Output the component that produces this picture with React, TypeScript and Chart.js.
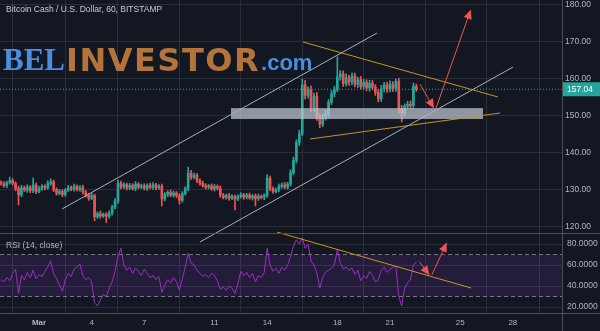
import React, { useEffect, useRef } from 'react';
import { Chart, registerables } from 'chart.js';

Chart.register(...registerables);

// ---- data (day axis: Mar 1 = 1, Feb 28 = 0) ----
const startDay = -1.1667; // first 4h candle
const candleStep = 4 / 24;
const firstOpen = 131.8;
const closes = [
  131.5, 131.0, 131.8, 132.4, 131.6, 130.2, 128.5, 130.4, 129.8, 130.6,
  129.6, 131.2, 129.4, 130.2, 130.8, 130.4, 131.6, 132.0, 130.0, 128.9,
  129.4, 128.6, 129.8, 130.4, 130.1, 130.8, 129.9, 130.5, 129.3, 128.4,
  127.6, 128.3, 122.6, 123.4, 122.8, 123.2, 122.7, 123.6, 125.2, 126.8,
  131.6, 130.6, 131.3, 130.4, 131.0, 130.2, 131.4, 130.6, 130.9, 130.3,
  131.1, 130.5, 131.2, 130.4, 130.8, 127.4, 128.6, 129.2, 128.4, 129.0,
  128.3, 127.0, 128.8, 130.2, 134.4, 133.2, 133.8, 132.4, 131.6, 131.0,
  130.6, 130.9, 130.1, 130.8, 130.3, 128.4, 127.8, 128.3, 127.6, 128.1,
  127.4, 128.0, 128.5, 127.9, 128.4, 127.7, 128.2, 127.5, 128.1, 127.8,
  128.3, 133.0, 130.2, 129.4, 129.9, 130.8, 131.2, 130.6, 131.4, 134.5,
  137.8, 142.6, 145.0, 158.2, 155.4, 156.8, 152.0, 155.2, 149.4, 147.6,
  149.5, 150.4, 153.6, 155.8, 157.0, 160.4, 161.2, 158.6, 160.2, 159.0,
  160.6, 158.4, 159.6, 157.8, 158.9, 157.4, 158.6, 157.6, 156.2, 154.4,
  157.2, 158.2, 157.0, 158.4, 157.3, 159.2, 151.8, 150.6, 152.4, 153.0,
  152.6, 157.8, 157.04,
];
const wickUp = [
  0.5, 0.6, 0.4, 0.9, 0.5, 0.4, 0.6, 0.7, 0.5, 0.6,
  0.4, 1.8, 0.5, 0.6, 0.5, 0.4, 0.7, 0.8, 0.5, 0.4,
  0.6, 0.5, 0.4, 0.7, 0.5, 0.6, 0.4, 0.5, 0.6, 0.4,
  0.5, 0.6, 0.4, 0.5, 0.7, 0.4, 0.5, 0.6, 0.5, 0.7,
  0.9, 0.6, 0.5, 0.4, 0.6, 0.5, 0.7, 0.4, 0.5, 0.6,
  0.4, 0.5, 0.6, 0.4, 0.5, 0.6, 0.5, 0.4, 0.6, 0.5,
  0.4, 0.5, 0.6, 0.5, 1.6, 0.7, 0.6, 0.5, 0.4, 0.6,
  0.5, 0.4, 0.6, 0.5, 0.4, 0.6, 0.5, 0.4, 0.6, 0.5,
  0.4, 0.5, 0.6, 0.4, 0.5, 0.6, 0.4, 0.5, 0.6, 0.4,
  0.5, 1.0, 0.6, 0.5, 0.4, 0.6, 0.5, 0.7, 0.5, 0.8,
  0.9, 0.8, 1.0, 1.6, 1.2, 0.9, 1.1, 0.8, 1.0, 0.9,
  0.8, 1.0, 0.7, 0.9, 0.8, 5.4, 0.9, 0.8, 1.0, 0.7,
  0.9, 0.8, 0.7, 0.9, 0.8, 0.7, 0.9, 0.8, 0.7, 0.8,
  0.9, 0.7, 0.8, 0.9, 0.7, 0.6, 0.8, 0.9, 0.7, 0.8,
  0.9, 0.9, 0.6,
];
const wickDown = [
  0.4, 0.5, 0.6, 0.4, 0.5, 0.6, 2.7, 0.5, 0.4, 0.6,
  0.5, 0.5, 0.6, 0.4, 0.5, 0.6, 0.4, 0.5, 0.6, 0.5,
  0.4, 0.6, 0.5, 0.4, 0.5, 0.6, 0.4, 0.5, 0.6, 0.5,
  0.6, 0.4, 1.1, 0.5, 0.6, 0.4, 1.7, 0.5, 0.6, 0.5,
  0.6, 0.5, 0.4, 0.6, 0.5, 0.4, 0.6, 0.5, 0.4, 0.5,
  0.6, 0.4, 0.5, 0.6, 0.4, 1.9, 0.5, 0.6, 0.4, 0.5,
  0.6, 1.0, 0.5, 0.4, 0.6, 0.5, 0.4, 0.6, 0.5, 0.4,
  0.6, 0.5, 0.4, 0.6, 0.5, 0.6, 0.4, 0.5, 0.6, 0.4,
  3.0, 0.5, 0.4, 0.6, 0.5, 0.4, 0.6, 2.0, 0.5, 0.4,
  0.6, 0.5, 0.6, 0.5, 0.4, 0.6, 0.5, 0.4, 0.6, 0.5,
  0.6, 0.7, 0.8, 0.5, 1.0, 0.8, 1.0, 0.9, 0.8, 1.0,
  0.7, 0.8, 0.9, 0.7, 0.8, 0.6, 0.9, 0.8, 0.7, 0.9,
  0.8, 0.7, 0.9, 0.8, 0.7, 0.8, 0.9, 0.7, 0.8, 0.8,
  0.7, 0.9, 0.8, 0.7, 0.9, 0.8, 1.3, 2.4, 0.8, 0.7,
  0.8, 0.7, 0.6,
];
const rsiValues = [
  46, 44, 48, 45, 52, 56, 33, 50, 46, 53,
  48, 55, 47, 51, 49, 54, 58, 64, 52, 47,
  41, 35, 46, 52, 49, 56, 58, 61, 50, 46,
  48, 44, 24, 21, 27, 32, 30, 38, 44, 54,
  68, 76, 60, 55, 58, 52, 57, 54, 50, 56,
  52, 48, 50, 46, 49, 34, 41, 46, 43, 48,
  44, 36, 47, 58, 71, 62, 60, 55, 52, 49,
  51, 48, 52, 50, 45, 37, 39, 36, 40, 38,
  33, 42, 54, 50, 53, 48, 52, 44, 50, 48,
  53, 76, 60, 54, 57, 52, 58, 55, 60, 68,
  78, 84, 80, 86, 76, 80, 64, 60, 52, 38,
  48, 53, 55, 57, 60, 75, 62, 56, 58, 55,
  57, 51, 55, 45, 50, 47, 54, 50, 44, 46,
  55, 58, 53, 56, 58, 59, 30, 21, 38, 43,
  46, 60, 63,
];
const lastPrice = 157.04;
const dayTicks = [1, 4, 7, 11, 14, 18, 21, 25, 28];
const dayTickLabels = ['Mar', '4', '7', '11', '14', '18', '21', '25', '28'];
const priceTicks = [120, 130, 140, 150, 160, 170, 180];
const rsiTicks = [20, 40, 60, 80];
const rsiUpperBand = 70;
const rsiLowerBand = 30;

// drawings, in [day, value]
const channelUpper = [[2.31, 124.68], [20.26, 172.24]];
const channelLower = [[10.17, 115.76], [28.01, 163.05]];
const wedgeUpper = [[16.04, 169.81], [27.15, 154.95]];
const wedgeLower = [[16.44, 143.59], [27.27, 150.62]];
const supportZone = { from: 11.94, to: 26.3, low: 149.0, high: 151.95 };
const priceArrows = [
  [[22.71, 158.43], [23.5, 151.9]],
  [[23.62, 151.9], [25.6, 178.5]],
];
const rsiTrend = [[14.56, 91.4], [25.62, 38.1]];
const rsiArrows = [
  [[22.67, 63.1], [23.24, 50.5]],
  [[23.38, 50.5], [24.23, 81.2]],
];

const X_MIN = -1.222;
const X_MAX = 30.8;

const BG = '#131722';
const GRID = '#2a2e39';
const AXIS_LINE = '#4a4e59';
const TEXT = '#b2b5be';
const UP = '#26a69a';
const DOWN = '#ef5350';
const ARROW = '#ec5553';
const GOLD = '#c8961e';
const CHANNEL = '#a9b1bc';

function zeroPad(s: any) {
  s.paddingTop = 0;
  s.paddingBottom = 0;
  s.paddingLeft = 0;
  s.paddingRight = 0;
}

function drawHead(ctx: CanvasRenderingContext2D, x0: number, y0: number, x1: number, y1: number) {
  const a = Math.atan2(y1 - y0, x1 - x0);
  const L = 9;
  const W = 4.2;
  ctx.beginPath();
  ctx.moveTo(x1, y1);
  ctx.lineTo(x1 - L * Math.cos(a) + W * Math.sin(a), y1 - L * Math.sin(a) - W * Math.cos(a));
  ctx.lineTo(x1 - L * Math.cos(a) - W * Math.sin(a), y1 - L * Math.sin(a) + W * Math.cos(a));
  ctx.closePath();
  ctx.fill();
}

export default function App() {
  const ref = useRef<HTMLCanvasElement | null>(null);

  useEffect(() => {
    const canvas = ref.current;
    if (!canvas) return;

    const times = closes.map((_, i) => startDay + i * candleStep);
    const opens = closes.map((_, i) => (i === 0 ? firstOpen : closes[i - 1]));
    const highs = closes.map((c, i) => Math.max(opens[i], c) + wickUp[i]);
    const lows = closes.map((c, i) => Math.min(opens[i], c) - wickDown[i]);
    const colors = closes.map((c, i) => (c >= opens[i] ? UP : DOWN));

    const seg = (pts: number[][]) => pts.map(([x, y]) => ({ x, y }));
    const lineDs = (pts: number[][], axis: string, color: string, order: number, extra: any = {}) => ({
      type: 'line',
      data: seg(pts),
      yAxisID: axis,
      borderColor: color,
      borderWidth: 1,
      pointRadius: 0,
      tension: 0,
      fill: false,
      clip: false,
      order,
      ...extra,
    });

    const BODY_INDEX = 1;

    const datasets: any[] = [
      {
        type: 'bar',
        data: times.map((t, i) => ({ x: t, y: [lows[i], highs[i]] })),
        yAxisID: 'y',
        backgroundColor: colors,
        barThickness: 1,
        grouped: false,
        order: 30,
      },
      {
        type: 'bar',
        data: times.map((t, i) => ({ x: t, y: [opens[i], closes[i]] })),
        yAxisID: 'y',
        backgroundColor: colors,
        barThickness: 2,
        minBarLength: 1,
        grouped: false,
        order: 29,
      },
      lineDs([[X_MIN, rsiUpperBand], [X_MAX, rsiUpperBand]], 'rsi', '#787b86', 25, { borderDash: [4, 3], clip: 0 }),
      lineDs([[X_MIN, rsiLowerBand], [X_MAX, rsiLowerBand]], 'rsi', '#787b86', 24, {
        borderDash: [4, 3],
        clip: 0,
        fill: '-1',
        backgroundColor: 'rgba(126, 60, 194, 0.16)',
      }),
      {
        type: 'line',
        data: times.map((t, i) => ({ x: t, y: rsiValues[i] })),
        yAxisID: 'rsi',
        borderColor: '#9b30c0',
        borderWidth: 1,
        pointRadius: 0,
        tension: 0,
        fill: false,
        order: 20,
      },
      lineDs([[X_MIN, lastPrice], [X_MAX, lastPrice]], 'y', UP, 18, { borderDash: [1, 2], clip: 0 }),
      lineDs(channelUpper, 'y', CHANNEL, 10),
      lineDs(channelLower, 'y', CHANNEL, 10),
      lineDs(wedgeUpper, 'y', GOLD, 9),
      lineDs(wedgeLower, 'y', GOLD, 9),
      lineDs(rsiTrend, 'rsi', GOLD, 9),
      ...priceArrows.map((a) => lineDs(a, 'y', ARROW, 5)),
      ...rsiArrows.map((a) => lineDs(a, 'rsi', ARROW, 5)),
    ];

    const overlay = {
      id: 'overlay',
      afterDatasetDraw(chart: any, args: any) {
        if (args.index !== BODY_INDEX) return;
        const { ctx, scales } = chart;
        const x0 = scales.x.getPixelForValue(supportZone.from);
        const x1 = scales.x.getPixelForValue(supportZone.to);
        const y0 = scales.y.getPixelForValue(supportZone.high);
        const y1 = scales.y.getPixelForValue(supportZone.low);
        ctx.save();
        ctx.fillStyle = 'rgba(190, 200, 212, 0.72)';
        ctx.fillRect(x0, y0, x1 - x0, y1 - y0);
        ctx.restore();
      },
      afterDatasetsDraw(chart: any) {
        const { ctx, scales } = chart;
        ctx.save();
        ctx.fillStyle = ARROW;
        priceArrows.forEach(([a, b]) => {
          drawHead(ctx, scales.x.getPixelForValue(a[0]), scales.y.getPixelForValue(a[1]),
            scales.x.getPixelForValue(b[0]), scales.y.getPixelForValue(b[1]));
        });
        rsiArrows.forEach(([a, b]) => {
          drawHead(ctx, scales.x.getPixelForValue(a[0]), scales.rsi.getPixelForValue(a[1]),
            scales.x.getPixelForValue(b[0]), scales.rsi.getPixelForValue(b[1]));
        });
        ctx.restore();
      },
      afterDraw(chart: any) {
        const { ctx, scales, width, height, chartArea } = chart;
        ctx.save();
        // pane separators and axis border
        ctx.strokeStyle = AXIS_LINE;
        ctx.lineWidth = 1;
        const sep = Math.round(scales.y.bottom) + 0.5;
        const bottom = Math.round(chartArea.bottom) + 0.5;
        const right = Math.round(chartArea.right) + 0.5;
        ctx.beginPath();
        ctx.moveTo(0, sep); ctx.lineTo(width, sep);
        ctx.moveTo(0, bottom); ctx.lineTo(width, bottom);
        ctx.moveTo(right, 0); ctx.lineTo(right, height);
        ctx.stroke();

        // last price label
        const py = scales.y.getPixelForValue(lastPrice);
        ctx.fillStyle = UP;
        ctx.fillRect(right + 0.5, py - 7, width - right, 14);
        ctx.fillStyle = '#ffffff';
        ctx.font = '8.5px "Liberation Sans", sans-serif';
        ctx.textBaseline = 'middle';
        ctx.fillText(lastPrice.toFixed(2), 567, py + 0.5);

        // titles
        ctx.fillStyle = '#c9ccd4';
        ctx.font = '8.5px "Liberation Sans", sans-serif';
        ctx.fillText('Bitcoin Cash / U.S. Dollar, 60, BITSTAMP', 6, 10);
        ctx.fillStyle = TEXT;
        ctx.fillText('RSI (14, close)', 6, 245.5);

        // watermark
        ctx.textBaseline = 'alphabetic';
        let x = 3;
        ctx.font = 'bold 31px "Liberation Serif", serif';
        ctx.fillStyle = '#4a8ee0';
        ctx.fillText('BEL', x, 70);
        x += ctx.measureText('BEL').width + 1;
        ctx.font = 'bold 32px "DejaVu Sans", sans-serif';
        (ctx as any).letterSpacing = '1.5px';
        ctx.fillStyle = '#b3733a';
        ctx.fillText('INVESTOR', x, 70.5);
        x += ctx.measureText('INVESTOR').width + 1;
        (ctx as any).letterSpacing = '0px';
        ctx.font = 'bold 22px "Liberation Sans", sans-serif';
        ctx.fillStyle = '#4a8ee0';
        ctx.fillText('.com', x, 70);
        ctx.restore();
      },
    };

    const chart = new Chart(canvas, {
      type: 'bar',
      data: { datasets },
      options: {
        responsive: false,
        animation: false,
        events: [],
        layout: { padding: 0, autoPadding: false },
        plugins: { legend: { display: false }, tooltip: { enabled: false } },
        scales: {
          x: {
            type: 'linear',
            min: X_MIN,
            max: X_MAX,
            offset: false,
            afterBuildTicks: (s: any) => { s.ticks = dayTicks.map((v) => ({ value: v })); },
            afterFit: (s: any) => { s.height = 18; zeroPad(s); },
            ticks: {
              autoSkip: false,
              maxRotation: 0,
              padding: 5,
              color: TEXT,
              callback: (v: any) => {
                const k = dayTicks.indexOf(Number(v));
                return k >= 0 ? dayTickLabels[k] : '';
              },
              font: (c: any) => ({
                size: 8,
                family: '"Liberation Sans", sans-serif',
                weight: c.tick && c.tick.value === 1 ? 'bold' : 'normal',
              }),
            },
            grid: { color: GRID, drawTicks: false },
            border: { color: AXIS_LINE },
          },
          y: {
            type: 'linear',
            position: 'right',
            stack: 'pane',
            stackWeight: 233,
            min: 118.19,
            max: 181.16,
            afterBuildTicks: (s: any) => { s.ticks = priceTicks.map((v) => ({ value: v })); },
            afterFit: (s: any) => { s.width = 38; zeroPad(s); },
            ticks: {
              padding: 3,
              color: TEXT,
              font: { size: 8.5, family: '"Liberation Sans", sans-serif' },
              callback: (v: any) => Number(v).toFixed(2),
            },
            grid: { color: GRID, drawTicks: false },
            border: { color: AXIS_LINE },
          },
          rsi: {
            type: 'linear',
            position: 'right',
            stack: 'pane',
            stackWeight: 80,
            min: 14.3,
            max: 90.5,
            afterBuildTicks: (s: any) => { s.ticks = rsiTicks.map((v) => ({ value: v })); },
            afterFit: (s: any) => { s.width = 38; zeroPad(s); },
            ticks: {
              padding: 5,
              color: TEXT,
              font: { size: 8.5, family: '"Liberation Sans", sans-serif' },
              callback: (v: any) => Number(v).toFixed(4),
            },
            grid: { color: GRID, drawTicks: false },
            border: { color: AXIS_LINE },
          },
        },
      } as any,
      plugins: [overlay],
    });

    return () => chart.destroy();
  }, []);

  return (
    <div style={{ position: 'fixed', left: 0, top: 0, width: 600, height: 331, background: BG }}>
      <canvas ref={ref} width={600} height={331} style={{ display: 'block' }} />
    </div>
  );
}
